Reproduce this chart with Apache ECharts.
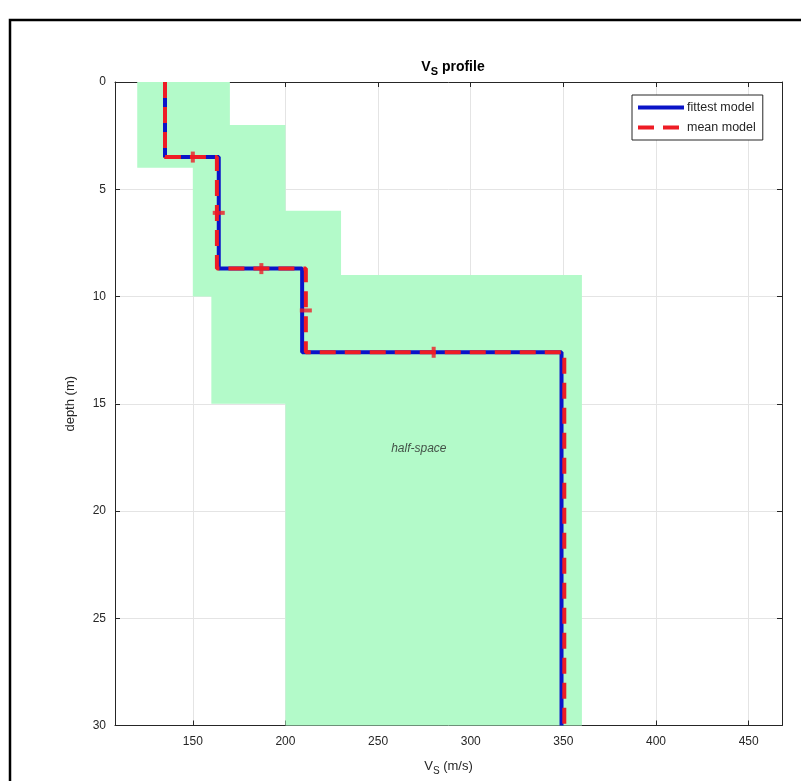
<!DOCTYPE html>
<html>
<head>
<meta charset="utf-8">
<title>Vs profile</title>
<script src="https://cdn.jsdelivr.net/npm/echarts@6/dist/echarts.min.js"></script>
<style>
  html, body { margin: 0; padding: 0; background: #ffffff; }
  #chart { width: 801px; height: 781px; }
</style>
</head>
<body>
<div id="chart"></div>
<script>
// Axis limits and tick values
const vsMin = 108;
const vsMax = 468;
const vsTicks = [150, 200, 250, 300, 350, 400, 450];
const depthMin = 0;
const depthMax = 30;
const depthStep = 5;

// Search-space bounds (step profiles)
const lowerVs = [120, 150, 160, 200];
const lowerDepth = [0, 4, 10, 15, 30];
const upperVs = [170, 200, 230, 360];
const upperDepth = [0, 2, 6, 9, 30];

// Layered models: Vs per layer and layer interface depths (last layer = half-space)
const fittestVs = [135, 164, 209, 349];
const fittestDepth = [3.5, 8.7, 12.6];
const meanVs = [135, 163, 211, 350.5];
const meanDepth = [3.5, 8.7, 12.6];

// Mean-model uncertainty marks: depth spread on interfaces, Vs spread within layers
const depthErrMarks = [[150, 3.5], [187, 8.7], [280, 12.6]];
const vsErrMarks = [[164, 6.1], [211, 10.65]];

// Annotation
const halfSpaceLabel = { vs: 272, depth: 17.1, text: 'half-space' };

// Turn layer values + interfaces into a stepped polyline from surface to bottom
function stepProfile(vs, depths, bottom) {
  const pts = [];
  const bounds = [0].concat(depths, [bottom]);
  for (let i = 0; i < vs.length; i++) {
    pts.push([vs[i], bounds[i]]);
    pts.push([vs[i], bounds[i + 1]]);
  }
  return pts;
}
function boundPath(vs, depths) {
  const pts = [];
  for (let i = 0; i < vs.length; i++) {
    pts.push([vs[i], depths[i]]);
    pts.push([vs[i], depths[i + 1]]);
  }
  return pts;
}

const lowerPath = boundPath(lowerVs, lowerDepth);
const upperPath = boundPath(upperVs, upperDepth).reverse();
const bandPolygon = lowerPath.concat(upperPath);

const textColor = '#262626';
const fontFamily = '"Liberation Sans", Arial, Helvetica, sans-serif';

const chart = echarts.init(document.getElementById('chart'), null, { renderer: 'canvas' });

const axisCommonX = {
  type: 'value',
  min: vsMin,
  max: vsMax,
  axisLine: { show: true, onZero: false, lineStyle: { color: textColor, width: 1 } },
  axisTick: { show: true, inside: true, length: 5, customValues: vsTicks, lineStyle: { color: textColor } }
};
const axisCommonY = {
  type: 'value',
  inverse: true,
  min: depthMin,
  max: depthMax,
  interval: depthStep,
  axisLine: { show: true, onZero: false, lineStyle: { color: textColor, width: 1 } },
  axisTick: { show: true, inside: true, length: 5, lineStyle: { color: textColor } }
};

chart.setOption({
  animation: false,
  backgroundColor: '#ffffff',
  textStyle: { fontFamily: fontFamily },
  title: {
    text: '{v|V}{s|S}{p| profile}',
    left: 448,
    textAlign: 'center',
    top: 52,
    textStyle: {
      rich: {
        v: { fontSize: 14, fontWeight: 'bold', color: '#000', fontFamily: fontFamily, lineHeight: 20 },
        s: { fontSize: 11, fontWeight: 'bold', color: '#000', fontFamily: fontFamily, padding: [9, 0, 0, 0], lineHeight: 20 },
        p: { fontSize: 14, fontWeight: 'bold', color: '#000', fontFamily: fontFamily, lineHeight: 20 }
      }
    }
  },
  grid: { left: 115, right: 19, top: 82, bottom: 54, containLabel: false },
  legend: {
    data: ['fittest model', 'mean model'],
    orient: 'vertical',
    left: 632,
    top: 95,
    itemWidth: 46,
    itemHeight: 12,
    itemGap: 7,
    padding: [6, 7, 6, 4],
    borderColor: textColor,
    borderWidth: 1,
    backgroundColor: '#ffffff',
    itemStyle: { opacity: 0, borderWidth: 0 },
    lineStyle: { width: 4 },
    textStyle: { fontSize: 12.5, color: textColor, fontFamily: fontFamily, padding: [0, 0, 0, -2] }
  },
  xAxis: [
    Object.assign({}, axisCommonX, {
      position: 'bottom',
      name: '{v|V}{s|S}{u| (m/s)}',
      nameLocation: 'middle',
      nameGap: 32,
      nameTextStyle: {
        rich: {
          v: { fontSize: 13, color: textColor, fontFamily: fontFamily, lineHeight: 18 },
          s: { fontSize: 10, color: textColor, fontFamily: fontFamily, padding: [9, 0, 0, 0], lineHeight: 18 },
          u: { fontSize: 13, color: textColor, fontFamily: fontFamily, lineHeight: 18 }
        }
      },
      axisLabel: { show: true, customValues: vsTicks, margin: 10, fontSize: 12, color: textColor, fontFamily: fontFamily },
      splitLine: { show: true, lineStyle: { color: '#e4e4e4', width: 1 } }
    }),
    Object.assign({}, axisCommonX, {
      position: 'top',
      axisLabel: { show: false },
      splitLine: { show: false }
    })
  ],
  yAxis: [
    Object.assign({}, axisCommonY, {
      position: 'left',
      name: 'depth (m)',
      nameLocation: 'middle',
      nameGap: 38,
      nameRotate: 90,
      nameTextStyle: { fontSize: 13, color: textColor, fontFamily: fontFamily },
      axisLabel: { show: true, margin: 9, fontSize: 12, color: textColor, fontFamily: fontFamily },
      splitLine: { show: true, lineStyle: { color: '#e4e4e4', width: 1 } }
    }),
    Object.assign({}, axisCommonY, {
      position: 'right',
      axisLabel: { show: false },
      splitLine: { show: false }
    })
  ],
  series: [
    {
      name: 'search space',
      type: 'custom',
      coordinateSystem: 'cartesian2d',
      xAxisIndex: 0,
      yAxisIndex: 0,
      z: 1,
      silent: true,
      data: [0],
      renderItem: function (params, api) {
        const points = bandPolygon.map(function (p) { return api.coord(p); });
        return {
          type: 'polygon',
          shape: { points: points },
          style: { fill: '#b3fac9', stroke: null }
        };
      }
    },
    {
      name: 'fittest model',
      type: 'line',
      xAxisIndex: 0,
      yAxisIndex: 0,
      z: 3,
      symbol: 'none',
      showSymbol: false,
      data: stepProfile(fittestVs, fittestDepth, depthMax),
      lineStyle: { color: '#0a14c8', width: 4 },
      itemStyle: { color: '#0a14c8' }
    },
    {
      name: 'mean model',
      type: 'line',
      xAxisIndex: 0,
      yAxisIndex: 0,
      z: 4,
      symbol: 'none',
      showSymbol: false,
      data: stepProfile(meanVs, meanDepth, depthMax),
      lineStyle: { color: '#ee1c25', width: 4, type: [16, 9] },
      itemStyle: { color: '#ee1c25' }
    },
    {
      name: 'depth spread',
      type: 'scatter',
      xAxisIndex: 0,
      yAxisIndex: 0,
      z: 5,
      silent: true,
      symbol: 'rect',
      symbolSize: [4, 11],
      data: depthErrMarks,
      itemStyle: { color: '#ee1c25' }
    },
    {
      name: 'vs spread',
      type: 'scatter',
      xAxisIndex: 0,
      yAxisIndex: 0,
      z: 5,
      silent: true,
      symbol: 'rect',
      symbolSize: [12, 4],
      data: vsErrMarks,
      itemStyle: { color: '#ee1c25' }
    },
    {
      name: 'annotation',
      type: 'scatter',
      xAxisIndex: 0,
      yAxisIndex: 0,
      z: 6,
      silent: true,
      symbolSize: 0,
      data: [[halfSpaceLabel.vs, halfSpaceLabel.depth]],
      label: {
        show: true,
        position: 'inside',
        formatter: halfSpaceLabel.text,
        fontStyle: 'italic',
        fontSize: 12,
        color: textColor,
        fontFamily: fontFamily
      }
    }
  ],
  graphic: [
    {
      type: 'polyline',
      silent: true,
      shape: { points: [[10, 800], [10, 20], [820, 20]] },
      style: { stroke: '#000000', lineWidth: 2.5, fill: null }
    }
  ]
});
</script>
</body>
</html>
